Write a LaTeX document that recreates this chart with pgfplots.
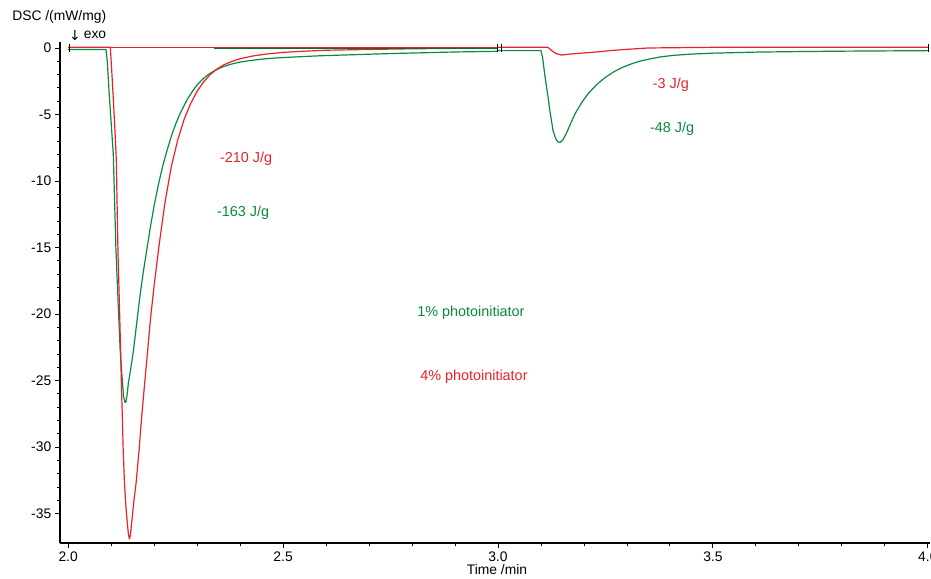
\documentclass[border=0pt]{standalone}
\usepackage{pgfplots}
\pgfplotsset{compat=1.18}
\usepackage{fontspec}
\setmainfont{Liberation Sans}
\newfontfamily\dejavu{DejaVu Sans}
\definecolor{cred}{RGB}{236,32,40}
\definecolor{cgreen}{RGB}{10,138,62}
\begin{document}
\begin{tikzpicture}
\useasboundingbox (-45pt,-26.25pt) rectangle (653.25pt,407.25pt);
\begin{axis}[
  at={(0,0)}, anchor=south west,
  width=652.5pt, height=375.75pt, scale only axis,
  xmin=1.981, xmax=4.005, ymin=-37.2, ymax=0.45,
  axis x line*=bottom, axis y line*=left,
  axis line style={black, line width=0.9pt},
  tick align=outside,
  xtick={2,2.5,3,3.5,4}, xticklabels={2.0,2.5,3.0,3.5,4.0},
  minor x tick num=4,
  ytick={-35,-30,-25,-20,-15,-10,-5,0},
  yticklabels={-35,-30,-25,-20,-15,-10,-5,0},
  minor y tick num=4,
  major tick length=4pt, minor tick length=2.5pt,
  tick style={black, line width=0.7pt},
  ticklabel style={font=\fontsize{10.4}{12}\selectfont},
  xticklabel style={yshift=1pt},
  yticklabel style={xshift=1pt},
  every axis plot/.append style={line width=0.9pt, line join=round},
]
% segment 1 green (1%)
\addplot[cgreen] coordinates {
(2.000,-0.12) (2.088,-0.12) (2.091,-1.0) (2.095,-3.2) (2.100,-5.6) (2.105,-8.0)
(2.108,-11.5) (2.111,-15.0) (2.116,-19.0) (2.121,-22.7) (2.126,-25.0) (2.129,-26.2)
(2.132,-26.6) (2.134,-26.65) (2.137,-26.1) (2.140,-25.2) (2.146,-24.0) (2.152,-22.7)
(2.159,-20.8) (2.166,-18.9) (2.174,-17.0) (2.183,-15.15) (2.191,-13.5) (2.200,-11.85)
(2.210,-10.25) (2.220,-8.87) (2.230,-7.7) (2.240,-6.63) (2.250,-5.73) (2.260,-4.96)
(2.270,-4.3) (2.280,-3.71) (2.290,-3.21) (2.300,-2.78) (2.310,-2.44) (2.320,-2.14)
(2.330,-1.91) (2.340,-1.72) (2.350,-1.56) (2.360,-1.42) (2.370,-1.31) (2.380,-1.21)
(2.390,-1.13) (2.400,-1.06) (2.415,-0.98) (2.430,-0.92) (2.445,-0.86) (2.460,-0.81)
(2.480,-0.76) (2.500,-0.72) (2.525,-0.68) (2.550,-0.64) (2.575,-0.6) (2.600,-0.57)
(2.650,-0.52) (2.700,-0.47) (2.750,-0.42) (2.800,-0.38) (2.900,-0.3) (3.000,-0.25)};
% segment 1 red (4%)
\addplot[cred] coordinates {
(2.000,0.05) (2.098,0.05) (2.101,-1.5) (2.105,-3.8) (2.109,-6.3) (2.112,-8.4)
(2.114,-12.0) (2.116,-15.5) (2.119,-19.0) (2.122,-22.7) (2.124,-25.5) (2.126,-27.7)
(2.128,-30.2) (2.131,-32.7) (2.134,-34.3) (2.137,-35.5) (2.140,-36.5) (2.1425,-36.9)
(2.145,-36.6) (2.148,-35.6) (2.153,-34.0) (2.158,-32.7) (2.165,-30.2) (2.171,-27.7)
(2.178,-25.2) (2.185,-22.7) (2.192,-20.2) (2.200,-17.85) (2.212,-14.7) (2.225,-11.66)
(2.240,-8.9) (2.255,-6.9) (2.270,-5.34) (2.285,-4.17) (2.300,-3.25) (2.315,-2.56)
(2.330,-2.01) (2.345,-1.61) (2.360,-1.30) (2.380,-1.02) (2.400,-0.81) (2.430,-0.60)
(2.460,-0.46) (2.500,-0.33) (2.550,-0.24) (2.600,-0.17) (2.700,-0.11) (2.800,-0.06)
(2.900,-0.03) (3.000,-0.02)};
% flat lines
\addplot[cred] coordinates {(2.000,0.05) (3.000,0.05)};
\addplot[cgreen!80!black] coordinates {(2.340,-0.05) (3.000,-0.05)};
% segment 2 green
\addplot[cgreen] coordinates {
(3.000,-0.2) (3.100,-0.2) (3.104,-0.8) (3.110,-2.3) (3.116,-3.6) (3.121,-4.8)
(3.128,-6.2) (3.134,-6.8) (3.139,-7.05) (3.144,-7.1) (3.150,-6.95) (3.156,-6.6)
(3.162,-6.2) (3.170,-5.6) (3.180,-4.9) (3.195,-4.09) (3.210,-3.42) (3.230,-2.74)
(3.250,-2.20) (3.270,-1.78) (3.290,-1.45) (3.310,-1.20) (3.330,-0.99) (3.355,-0.81)
(3.380,-0.66) (3.410,-0.55) (3.450,-0.46) (3.500,-0.39) (3.600,-0.31) (3.700,-0.27)
(3.800,-0.24) (3.900,-0.22) (4.000,-0.2)};
% segment 2 red
\addplot[cred] coordinates {
(3.000,0.05) (3.116,0.05) (3.125,-0.2) (3.135,-0.42) (3.148,-0.53) (3.170,-0.45)
(3.198,-0.38) (3.230,-0.3) (3.260,-0.2) (3.300,-0.1) (3.350,0.0) (3.500,0.05) (4.000,0.05)};
% segment break marks
\addplot[only marks, mark=|, mark size=3pt, black, mark options={line width=0.6pt}] coordinates {(2.004,0) (2.999,0) (3.009,0) (4.002,0)};
% annotations
\node[cred, font=\fontsize{10.8}{12}\selectfont] at (axis cs:2.414,-8.36) {-210 J/g};
\node[cgreen, font=\fontsize{10.8}{12}\selectfont] at (axis cs:2.407,-12.36) {-163 J/g};
\node[cgreen, font=\fontsize{10.8}{12}\selectfont] at (axis cs:2.937,-19.9) {1\% photoinitiator};
\node[cred, font=\fontsize{10.8}{12}\selectfont] at (axis cs:2.944,-24.7) {4\% photoinitiator};
\node[cred, font=\fontsize{10.8}{12}\selectfont] at (axis cs:3.402,-2.79) {-3 J/g};
\node[cgreen, font=\fontsize{10.8}{12}\selectfont] at (axis cs:3.405,-6.1) {-48 J/g};
\end{axis}
\node[anchor=west, inner sep=0pt, font=\fontsize{10.4}{12}\selectfont] at (-36pt,394.5pt) {DSC /(mW/mg)};
\node[inner sep=0pt, font=\fontsize{10.4}{12}\selectfont] at (26.25pt,381pt) {exo};
\node[inner sep=0pt, font=\dejavu\fontsize{10.4}{12}\selectfont] at (11.25pt,381pt) {↓};
\node[inner sep=0pt, font=\fontsize{10.4}{12}\selectfont] at (327.75pt,-20pt) {Time /min};
\end{tikzpicture}
\end{document}
